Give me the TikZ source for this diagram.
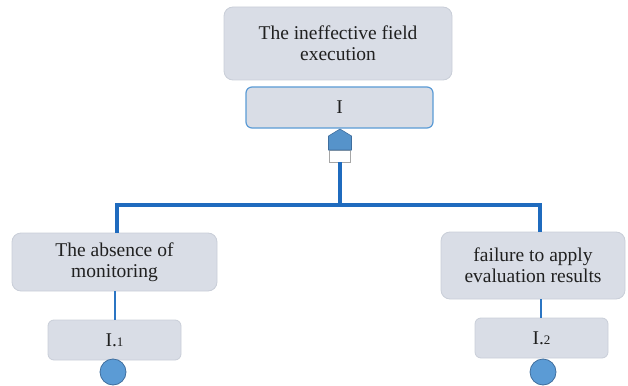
\documentclass[tikz,border=0pt]{standalone}
\usepackage{fontspec}
\setmainfont{Liberation Serif}
\usetikzlibrary{calc}
\definecolor{boxfill}{HTML}{D9DDE6}
\definecolor{boxedge}{HTML}{C9CED8}
\definecolor{accent}{HTML}{5B9BD5}
\definecolor{busblue}{HTML}{1F6BBE}
\definecolor{dotedge}{HTML}{3F6E9E}
\definecolor{ink}{HTML}{202020}
\newcommand{\smallfig}[1]{{\fontsize{13}{13}\selectfont #1}}
\begin{document}
\begin{tikzpicture}[x=1pt,y=-1pt,
  every node/.style={inner sep=0pt, outer sep=0pt, text=ink, align=center,
    font=\fontsize{19.5}{21}\selectfont},
  causebox/.style={draw=boxedge, line width=0.8pt, fill=boxfill, rounded corners=9pt},
  codebox/.style={draw=boxedge, line width=0.8pt, fill=boxfill, rounded corners=6pt},
  bus/.style={draw=busblue, line width=3.8pt},
  link/.style={draw=busblue!80!accent, line width=2pt},
  dot/.style={circle, draw=dotedge, line width=0.8pt, fill=accent, minimum size=26pt}]
\useasboundingbox (0,0) rectangle (628,385);

% root cause and its code
\node[causebox, minimum width=228pt, minimum height=73pt] (top) at (338,43.5)
  {The ineffective field\\execution};
\node[codebox, draw=accent, line width=1.2pt, minimum width=187pt, minimum height=41pt] (code) at (339.5,107.5) {I};

% connector cap under the code box
\node[draw=ink!40, fill=white, line width=0.6pt, minimum width=21pt, minimum height=12pt] (sq) at (340,156) {};
\draw[fill=accent!95!black, draw=dotedge, line width=0.6pt]
  ($(sq.north west)+(-1,0)$) -- ++(0,-14) -- ($(sq.north)+(0,-21)$) -- ($(sq.north east)+(1,-14)$) -- ($(sq.north east)+(1,0)$) -- cycle;

% sub-causes
\node[causebox, minimum width=205pt, minimum height=58pt] (left) at (114.5,262)
  {The absence of\\monitoring};
\node[causebox, minimum width=184pt, minimum height=67pt] (right) at (533,265.5)
  {failure to apply\\evaluation results};

\node[codebox, minimum width=133pt, minimum height=40pt] (c1) at (114.5,340) {I.\smallfig{1}};
\node[codebox, minimum width=133pt, minimum height=40pt] (c2) at (541.5,338) {I.\smallfig{2}};

\node[dot] (d1) at (113,372) {};
\node[dot] (d2) at (543,372) {};

% tree connectors
\coordinate (j) at (sq.south |- 0,205);
\coordinate (jl) at (117,205);
\coordinate (jr) at (540,205);
\draw[bus, line width=3.4pt] (sq.south) -- (j);
\draw[bus, line cap=rect] (jl) -- (jr);
\draw[bus] (jl) -- (jl |- left.north);
\draw[bus] (jr) -- (jr |- right.north);
\draw[link] (left.south -| 115,0) -- (c1.north -| 115,0);
\draw[link] (right.south -| 541,0) -- (c2.north -| 541,0);
\end{tikzpicture}
\end{document}
